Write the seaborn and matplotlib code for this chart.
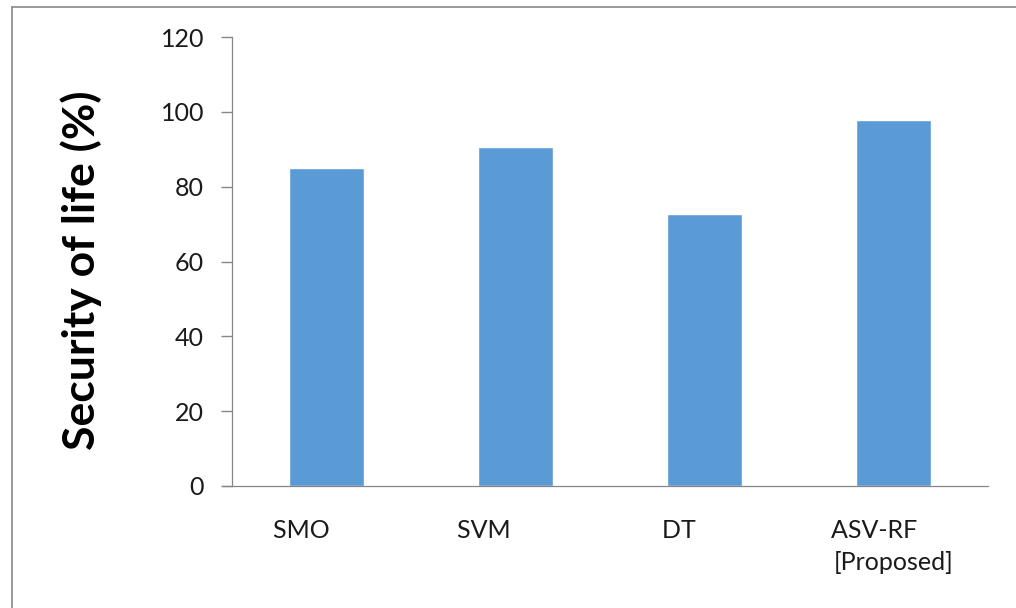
import matplotlib
matplotlib.use("Agg")
import matplotlib.pyplot as plt
import seaborn as sns
import pandas as pd
from matplotlib.lines import Line2D

sns.set_theme(style="white")
plt.rcParams["font.family"] = ["Lato", "DejaVu Sans"]

methods = ["SMO", "SVM", "DT", "ASV-RF"]
tick_labels = ["SMO        ", "SVM          ", "DT        ", "ASV-RF      \n[Proposed]"]
security = [85, 90.7, 72.8, 97.9]

df = pd.DataFrame({"Method": methods, "Security": security})

fig = plt.figure(figsize=(10.16, 6.08), dpi=100)
ax = fig.add_axes([0.2283, 0.2007, 0.7441, 0.7384])

sns.barplot(data=df, x="Method", y="Security", color="#5B9BD5",
            width=0.4, saturation=1, ax=ax)

ax.set_xlim(-0.5, 3.5)
ax.set_ylim(0, 120)
ax.set_yticks(range(0, 121, 20))
ax.set_xticks(range(len(methods)))
ax.set_xticklabels(tick_labels, fontsize=18, color="#1a1a1a",
                   multialignment="center", linespacing=1.45)
ax.yaxis.set_tick_params(which="major", left=True, length=8, width=1.0,
                         color="#868686", direction="out", pad=12,
                         labelsize=18, labelcolor="#1a1a1a")
ax.tick_params(axis="x", length=0, pad=24)

ax.set_xlabel("")
ax.set_ylabel("Security of life (%)", fontsize=32, fontweight="bold",
              color="black")
ax.yaxis.set_label_coords(-0.172, 0.48)

for side in ["top", "right"]:
    ax.spines[side].set_visible(False)
ax.spines["left"].set_color("#868686")
ax.spines["bottom"].set_color("#868686")
ax.spines["left"].set_linewidth(0.9)
ax.spines["bottom"].set_linewidth(0.9)

# extend baseline a little left of the y axis, as in the original
ax.plot([-0.555, -0.5], [0, 0], color="#868686", lw=0.9, clip_on=False)

# outer chart border (top and left only visible in the crop)
fig.add_artist(Line2D([12 / 1016, 12 / 1016], [0, 1 - 7 / 608], color="#888888", lw=1.2))
fig.add_artist(Line2D([12 / 1016, 1], [1 - 7 / 608, 1 - 7 / 608], color="#888888", lw=1.2))

fig.savefig("out.png", dpi=100)
